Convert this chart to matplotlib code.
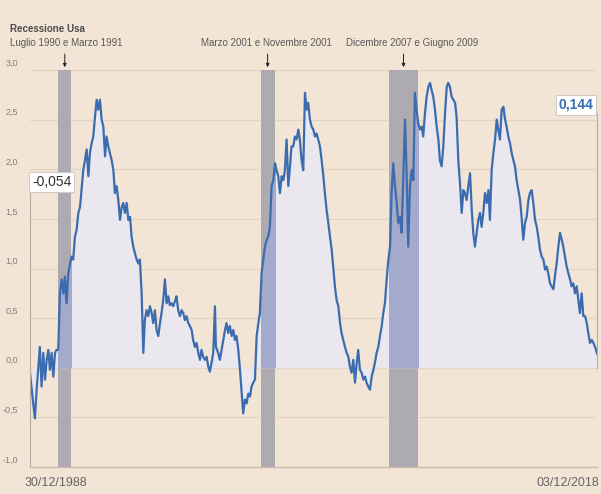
import matplotlib
matplotlib.use('Agg')
import matplotlib.pyplot as plt
import numpy as np

plt.rcParams['font.family'] = ['Liberation Sans', 'DejaVu Sans']

# Spread tra rendimenti (anni decimali / punti percentuali)
anni = [
    1989.00, 1989.09, 1989.17, 1989.26, 1989.35, 1989.44, 1989.52, 1989.61, 1989.70, 1989.79,
    1989.88, 1989.97, 1990.05, 1990.14, 1990.23, 1990.32, 1990.40, 1990.49, 1990.58, 1990.67,
    1990.76, 1990.84, 1990.93, 1991.02, 1991.11, 1991.20, 1991.28, 1991.37, 1991.46, 1991.55,
    1991.64, 1991.72, 1991.81, 1991.90, 1991.99, 1992.08, 1992.16, 1992.25, 1992.34, 1992.43,
    1992.52, 1992.60, 1992.69, 1992.78, 1992.87, 1992.96, 1993.04, 1993.13, 1993.22, 1993.31,
    1993.40, 1993.48, 1993.57, 1993.66, 1993.75, 1993.84, 1993.92, 1994.01, 1994.10, 1994.19,
    1994.28, 1994.36, 1994.45, 1994.54, 1994.63, 1994.72,
    1994.80, 1994.89, 1994.98, 1995.06, 1995.15, 1995.24, 1995.33, 1995.42, 1995.50, 1995.59,
    1995.68, 1995.77, 1995.86, 1995.94, 1996.03, 1996.12, 1996.21, 1996.30, 1996.38, 1996.47,
    1996.56, 1996.65, 1996.73, 1996.82, 1996.91, 1997.00, 1997.09, 1997.17, 1997.26, 1997.35,
    1997.44, 1997.53, 1997.61, 1997.70, 1997.79, 1997.88, 1997.97, 1998.05, 1998.14, 1998.23,
    1998.32, 1998.41, 1998.49, 1998.58, 1998.67, 1998.76, 1998.81, 1998.93, 1999.02, 1999.11,
    1999.20, 1999.29, 1999.37, 1999.46, 1999.55, 1999.64, 1999.73, 1999.81, 1999.90, 1999.99,
    2000.08, 2000.17, 2000.25, 2000.34, 2000.43, 2000.52, 2000.61, 2000.69, 2000.78,
    2000.87, 2000.96, 2001.05, 2001.13, 2001.22, 2001.31, 2001.40, 2001.49, 2001.57, 2001.66,
    2001.75, 2001.84, 2001.93, 2002.01, 2002.10, 2002.19, 2002.28, 2002.37, 2002.45, 2002.54,
    2002.63, 2002.72, 2002.80, 2002.89, 2002.98, 2003.07, 2003.16, 2003.24, 2003.33, 2003.42,
    2003.51, 2003.60, 2003.68, 2003.77, 2003.86, 2003.95, 2004.04, 2004.12, 2004.21, 2004.30,
    2004.39, 2004.48, 2004.56, 2004.65, 2004.74, 2004.83, 2004.92, 2005.00, 2005.09, 2005.18,
    2005.27, 2005.36, 2005.44, 2005.53, 2005.62, 2005.71, 2005.80, 2005.88, 2005.97, 2006.06,
    2006.15, 2006.24, 2006.32, 2006.41, 2006.50, 2006.59, 2006.68, 2006.76, 2006.85,
    2006.94, 2007.03, 2007.12, 2007.20, 2007.29, 2007.38, 2007.47, 2007.56, 2007.64, 2007.73,
    2007.82, 2007.91, 2008.00, 2008.08, 2008.17, 2008.26, 2008.35, 2008.43, 2008.52, 2008.61,
    2008.70, 2008.79, 2008.87, 2008.96, 2009.05, 2009.14, 2009.23, 2009.31, 2009.40, 2009.49,
    2009.58, 2009.67, 2009.75, 2009.84, 2009.93, 2010.02, 2010.11, 2010.19, 2010.28, 2010.37,
    2010.46, 2010.55, 2010.63, 2010.72, 2010.81, 2010.90, 2010.99, 2011.07, 2011.16, 2011.25,
    2011.34, 2011.43, 2011.51, 2011.60, 2011.69, 2011.78, 2011.87, 2011.95, 2012.04, 2012.13,
    2012.22, 2012.31, 2012.39, 2012.48, 2012.57, 2012.66, 2012.75, 2012.83, 2012.92,
    2013.01, 2013.10, 2013.19, 2013.27, 2013.36, 2013.45, 2013.54, 2013.63, 2013.71, 2013.80,
    2013.89, 2013.98, 2014.07, 2014.15, 2014.24, 2014.33, 2014.42, 2014.51, 2014.59, 2014.68,
    2014.77, 2014.86, 2014.94, 2015.03, 2015.12, 2015.21, 2015.30, 2015.38, 2015.47, 2015.56,
    2015.65, 2015.74, 2015.82, 2015.91, 2016.00, 2016.09, 2016.18, 2016.26, 2016.35, 2016.44,
    2016.53, 2016.62, 2016.70, 2016.79, 2016.88, 2016.97, 2017.06, 2017.14, 2017.23, 2017.32,
    2017.41, 2017.50, 2017.58, 2017.67, 2017.76, 2017.85, 2017.94, 2018.02, 2018.11, 2018.20,
    2018.29, 2018.38, 2018.46, 2018.55, 2018.64, 2018.73, 2018.82, 2018.92,
]
spread = [
    -0.054, -0.22, -0.36, -0.51, -0.22, 0.01, 0.21, -0.19, 0.15, -0.12,
    0.08, 0.18, -0.02, 0.15, -0.09, 0.15, 0.18, 0.18, 0.75, 0.89,
    0.75, 0.92, 0.65, 0.95, 1.05, 1.12, 1.09, 1.32, 1.39, 1.56,
    1.62, 1.79, 1.99, 2.09, 2.20, 1.93, 2.16, 2.26, 2.33, 2.53,
    2.70, 2.60, 2.70, 2.50, 2.43, 2.13, 2.33, 2.23, 2.16, 2.09,
    1.99, 1.76, 1.83, 1.69, 1.49, 1.62, 1.66, 1.56, 1.66, 1.49,
    1.52, 1.32, 1.22, 1.15, 1.09, 1.05,
    1.09, 0.75, 0.15, 0.48, 0.58, 0.52, 0.62, 0.55, 0.45, 0.58,
    0.38, 0.32, 0.45, 0.55, 0.68, 0.89, 0.65, 0.72, 0.63, 0.65,
    0.62, 0.67, 0.72, 0.58, 0.52, 0.58, 0.55, 0.48, 0.52, 0.45,
    0.42, 0.38, 0.28, 0.21, 0.25, 0.15, 0.08, 0.18, 0.11, 0.08,
    0.11, 0.01, -0.04, 0.05, 0.15, 0.62, 0.21, 0.15, 0.08, 0.18,
    0.28, 0.38, 0.45, 0.35, 0.42, 0.32, 0.38, 0.28, 0.32, 0.18,
    -0.02, -0.26, -0.46, -0.32, -0.36, -0.26, -0.29, -0.19, -0.15,
    -0.12, 0.32, 0.45, 0.55, 0.95, 1.09, 1.22, 1.29, 1.32, 1.42,
    1.83, 1.89, 2.06, 1.99, 1.93, 1.76, 1.93, 1.89, 1.99, 2.30,
    1.83, 2.03, 2.23, 2.23, 2.33, 2.30, 2.40, 2.30, 2.09, 1.99,
    2.77, 2.60, 2.67, 2.50, 2.43, 2.40, 2.33, 2.36, 2.30, 2.23,
    2.09, 1.93, 1.76, 1.59, 1.46, 1.32, 1.19, 1.02, 0.82, 0.68,
    0.62, 0.45, 0.35, 0.28, 0.21, 0.15, 0.11, 0.01, -0.05, 0.08,
    -0.15, 0.05, 0.18, -0.02, -0.05, -0.12, -0.09, -0.15, -0.19,
    -0.22, -0.09, -0.02, 0.05, 0.15, 0.21, 0.32, 0.42, 0.55, 0.65,
    0.89, 1.09, 1.22, 1.76, 2.06, 1.83, 1.66, 1.46, 1.52, 1.36,
    1.93, 2.50, 1.99, 1.22, 1.83, 1.99, 1.89, 2.77, 2.60, 2.46,
    2.40, 2.43, 2.33, 2.56, 2.73, 2.83, 2.87, 2.80, 2.73, 2.60,
    2.43, 2.30, 2.09, 2.03, 2.23, 2.56, 2.83, 2.87, 2.83, 2.73,
    2.70, 2.67, 2.53, 2.09, 1.86, 1.56, 1.79, 1.76, 1.69, 1.83,
    1.96, 1.59, 1.36, 1.22, 1.36, 1.49, 1.56, 1.42, 1.56,
    1.76, 1.66, 1.79, 1.49, 1.99, 2.16, 2.30, 2.50, 2.40, 2.30,
    2.60, 2.63, 2.50, 2.43, 2.33, 2.26, 2.16, 2.09, 2.03, 1.89,
    1.79, 1.69, 1.52, 1.29, 1.46, 1.52, 1.69, 1.76, 1.79, 1.66,
    1.49, 1.42, 1.32, 1.19, 1.12, 1.09, 0.99, 1.02, 0.95, 0.85,
    0.82, 0.79, 0.92, 1.05, 1.22, 1.36, 1.29, 1.22, 1.12, 1.02,
    0.95, 0.89, 0.82, 0.85, 0.75, 0.82, 0.68, 0.55, 0.75, 0.52,
    0.52, 0.45, 0.35, 0.25, 0.28, 0.25, 0.21, 0.144,
]

# Recessioni Usa (inizio, fine) e loro etichette
recessioni = [(1990.50, 1991.17), (2001.17, 2001.91), (2007.92, 2009.50)]
etichette_rec = ['Luglio 1990 e Marzo 1991', 'Marzo 2001 e Novembre 2001',
                 'Dicembre 2007 e Giugno 2009']
yticks = [-1.0, -0.5, 0.0, 0.5, 1.0, 1.5, 2.0, 2.5, 3.0]
data_inizio, data_fine = '30/12/1988', '03/12/2018'
t_inizio, t_fine = 1989.0, 2018.92

bg = '#f3e5d6'
grid_col = '#e4d3c0'
line_col = '#3b6cb0'
fill_col = '#eae8ee'
bar_col = '#adaab2'
bar_fill_col = '#a4aacb'

x = np.array(anni)
y = np.array(spread)

fig = plt.figure(figsize=(6.01, 4.94), dpi=100, facecolor=bg)
ax = fig.add_axes([30 / 601, 27 / 494, 567 / 601, 397 / 494])
ax.set_facecolor(bg)
ax.set_axisbelow(True)

ax.fill_between(x, 0, y, color=fill_col, lw=0, zorder=2)
for a, b in recessioni:
    span = ax.axvspan(a, b, color=bar_col, lw=0, zorder=1)
    dark = ax.fill_between(x, 0, y, color=bar_fill_col, lw=0, zorder=3)
    dark.set_clip_path(span)
ax.plot(x, y, color=line_col, lw=1.6, zorder=4, solid_joinstyle='round')

ax.set_xlim(t_inizio, t_fine)
ax.set_ylim(-1.0, 3.0)
ax.set_yticks(yticks)
ax.set_xticks([])
ax.tick_params(axis='y', length=0, labelleft=False)
ax.grid(axis='y', color=grid_col, lw=0.9)
for s in ['top', 'left', 'right']:
    ax.spines[s].set_visible(False)
ax.spines['bottom'].set_color('#cdbdab')
ax.spines['bottom'].set_linewidth(1.0)
ax.spines['bottom'].set_zorder(5)

ytr = ax.get_yaxis_transform()
for v in yticks:
    ax.text(-0.021, v + 0.025, f'{v:.1f}'.replace('.', ','), transform=ytr,
            ha='right', va='bottom', fontsize=6.5, color='#7f7f7f')

# valori iniziale e finale
ax.plot([t_inizio, t_inizio], [-1.0, 1.79], color='#b5aca4', lw=0.8, zorder=5, clip_on=False)
ax.plot([t_fine, t_fine], [0.0, 2.57], color='#b5aca4', lw=0.8, zorder=5, clip_on=False)
ax.text(t_inizio + 0.1, 1.87, f'{spread[0]:.3f}'.replace('.', ','), ha='left', va='center',
        fontsize=10, color='#333333', zorder=6,
        bbox=dict(boxstyle='square,pad=0.2', fc='white', ec='#d0cbc6', lw=0.8))
ax.text(t_fine - 0.2, 2.65, f'{spread[-1]:.3f}'.replace('.', ','), ha='right', va='center',
        fontsize=10, color=line_col, fontweight='bold', zorder=6,
        bbox=dict(boxstyle='square,pad=0.2', fc='white', ec='#d0cbc6', lw=0.8))

# frecce sulle recessioni
for a, b in recessioni:
    ax.annotate('', xy=((a + b) / 2, 3.0), xycoords='data', xytext=(0, 11.5),
                textcoords='offset points',
                arrowprops=dict(arrowstyle='-|>', color='#222222', lw=0.7,
                                mutation_scale=5, shrinkA=0, shrinkB=2))

fig.text(10 / 601, 1 - 29 / 494, 'Recessione Usa', ha='left', va='center',
         fontsize=7, fontweight='bold', color='#4d4d4d')
fig.text(10 / 601, 1 - 43 / 494, etichette_rec[0], ha='left', va='center',
         fontsize=7, color='#595959')
fig.text(266 / 601, 1 - 43 / 494, etichette_rec[1], ha='center', va='center',
         fontsize=7, color='#595959')
fig.text(412 / 601, 1 - 43 / 494, etichette_rec[2], ha='center', va='center',
         fontsize=7, color='#595959')

fig.text(25 / 601, 1 - 483 / 494, data_inizio, ha='left', va='center',
         fontsize=9, color='#666666')
fig.text(599 / 601, 1 - 483 / 494, data_fine, ha='right', va='center',
         fontsize=9, color='#666666')

fig.savefig('out.png', dpi=100, facecolor=bg)
